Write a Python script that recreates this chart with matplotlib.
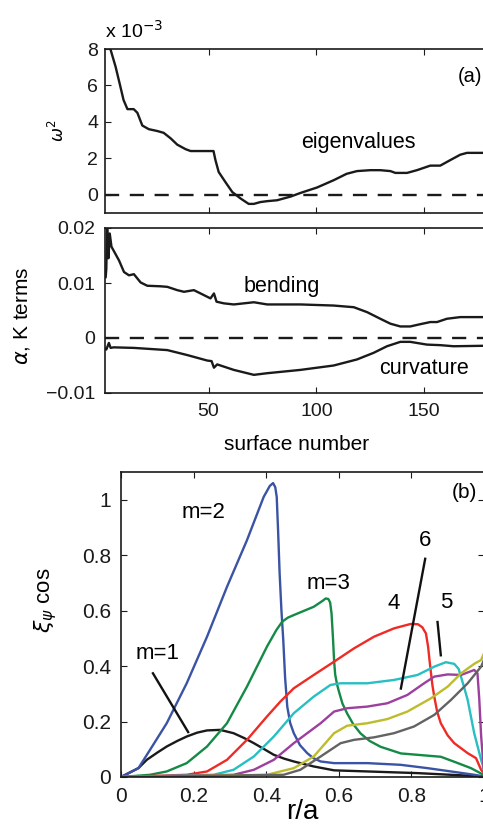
import numpy as np
import matplotlib
matplotlib.use("Agg")
import matplotlib.pyplot as plt

plt.rcParams['font.family'] = ['Liberation Sans', 'DejaVu Sans']
plt.rcParams['mathtext.fontset'] = 'dejavusans'

# ---- panel (a): eigenvalues (units of 1e-3) vs surface number
eig_s = [2.5, 4.5, 6.9, 8.8, 10.6, 12.4, 15.3, 17, 19.3, 22.3, 26.2, 29.2, 32.4, 35.5, 39.4,
         41.7, 52.3, 53.2, 54.7, 57.8, 61, 64.8, 68.6, 71, 74, 77.2, 81.8, 88, 92.6, 100.3,
         108, 114, 118.8, 125, 129.6, 134.3, 136.6, 142, 146.6, 152.8, 157.4, 162, 166.7,
         169.8, 180]
eig_w2 = [8.6, 8.0, 7.03, 6.1, 5.2, 4.7, 4.7, 4.5, 3.8, 3.6, 3.5, 3.4, 3.1, 2.75, 2.5,
          2.4, 2.4, 1.9, 1.25, 0.7, 0.15, -0.2, -0.5, -0.5, -0.4, -0.35, -0.3, -0.1, 0.1, 0.4,
          0.8, 1.15, 1.3, 1.35, 1.35, 1.3, 1.2, 1.2, 1.35, 1.6, 1.6, 1.9, 2.2,
          2.3, 2.3]

# ---- bending and curvature terms
bend_s = [2.3, 2.6, 3.0, 3.6, 4.2, 5, 8.5, 10.8, 13.1, 15.4, 18.5, 21.6, 27.8, 30.9, 35.5,
          38.6, 43.2, 46.3, 50.9, 52.5, 53.7, 57.1, 61.7, 71, 77.2, 92.6, 108, 117.3, 123.5,
          129.6, 134.3, 138.9, 143.5, 148, 152.8, 155.9, 160.5, 166.7, 180]
bend_v = [0.011, 0.0125, 0.020, 0.0145, 0.019, 0.0166, 0.0141, 0.012, 0.0114, 0.0116, 0.0101,
          0.0095, 0.0094, 0.0093, 0.0087, 0.0084, 0.0087, 0.0081, 0.0072, 0.0081, 0.0066,
          0.0063, 0.0061, 0.0065, 0.0061, 0.0061, 0.0059, 0.0056, 0.0047, 0.0035, 0.0026,
          0.0021, 0.0021, 0.0025, 0.0029, 0.0029, 0.0035, 0.0038, 0.0038]

curv_s = [2.3, 2.6, 3.8, 4.6, 6, 15.4, 30.9, 40.1, 49.4, 51.4, 52.5, 54, 61.7, 71, 77.2, 92.6,
          108, 118.8, 126.5, 132.7, 138.9, 143.5, 151.2, 157.4, 163.6, 180]
curv_v = [-0.0019, -0.0021, -0.0009, -0.0018, -0.0017, -0.0018, -0.0022, -0.0031, -0.0041,
          -0.0042, -0.0054, -0.0048, -0.0058, -0.0067, -0.0064, -0.0058, -0.005, -0.0039,
          -0.0027, -0.0015, -0.0007, -0.0007, -0.0012, -0.0013, -0.0015, -0.0014]

# ---- panel (b): xi_psi cos harmonics vs r/a
m1_r = [0, 0.048, 0.071, 0.1, 0.126, 0.155, 0.181, 0.21, 0.237, 0.273, 0.31, 0.34, 0.366,
        0.395, 0.421, 0.45, 0.476, 0.531, 0.587, 0.679, 0.817, 1.0]
m1_v = [0, 0.032, 0.062, 0.088, 0.11, 0.13, 0.146, 0.16, 0.168, 0.170, 0.158, 0.14, 0.122,
        0.1, 0.08, 0.066, 0.056, 0.038, 0.024, 0.02, 0.014, 0.002]

m2_r = [0, 0.048, 0.08, 0.126, 0.181, 0.237, 0.292, 0.347, 0.393, 0.41, 0.419, 0.425, 0.429,
        0.433, 0.437, 0.442, 0.447, 0.452, 0.458, 0.466, 0.476, 0.493, 0.513, 0.53, 0.55,
        0.587, 0.679, 0.77, 0.844, 0.909, 0.973, 1.0]
m2_v = [0, 0.032, 0.098, 0.194, 0.338, 0.506, 0.686, 0.854, 1.01, 1.05, 1.06, 1.045, 1.01,
        0.88, 0.734, 0.60, 0.494, 0.36, 0.254, 0.195, 0.158, 0.115, 0.086, 0.068, 0.056,
        0.05, 0.05, 0.044, 0.032, 0.02, 0.008, 0.002]

m3_r = [0, 0.08, 0.126, 0.181, 0.237, 0.292, 0.347, 0.402, 0.428, 0.444, 0.46, 0.476, 0.531,
        0.555, 0.564, 0.571, 0.576, 0.58, 0.584, 0.587, 0.59, 0.595, 0.6, 0.61, 0.623, 0.64,
        0.66, 0.685, 0.715, 0.771, 0.826, 0.881, 0.918, 0.964, 1.0]
m3_v = [0, 0.008, 0.02, 0.05, 0.11, 0.194, 0.326, 0.47, 0.53, 0.56, 0.575, 0.584, 0.614,
        0.635, 0.644, 0.642, 0.63, 0.59, 0.50, 0.42, 0.37, 0.335, 0.31, 0.265, 0.229, 0.19,
        0.157, 0.13, 0.109, 0.085, 0.079, 0.073, 0.055, 0.032, 0.007]

m4_r = [0, 0.181, 0.237, 0.292, 0.347, 0.402, 0.439, 0.476, 0.531, 0.587, 0.642, 0.697, 0.752,
        0.798, 0.818, 0.83, 0.84, 0.846, 0.85, 0.854, 0.858, 0.863, 0.871, 0.881, 0.9, 0.918,
        0.955, 0.978, 0.992, 1.0]
m4_v = [0, 0.008, 0.02, 0.062, 0.134, 0.218, 0.272, 0.32, 0.368, 0.416, 0.464, 0.506, 0.536,
        0.552, 0.551, 0.54, 0.518, 0.47, 0.42, 0.374, 0.33, 0.29, 0.235, 0.194, 0.15, 0.122,
        0.086, 0.068, 0.026, 0.014]

m5_r = [0, 0.255, 0.31, 0.366, 0.421, 0.476, 0.531, 0.577, 0.605, 0.679, 0.752, 0.817, 0.863,
        0.895, 0.918, 0.93, 0.937, 0.946, 0.955, 0.973, 0.992, 1.0]
m5_v = [0, 0.008, 0.026, 0.074, 0.146, 0.23, 0.29, 0.332, 0.338, 0.338, 0.35, 0.368, 0.398,
        0.414, 0.408, 0.39, 0.36, 0.32, 0.278, 0.158, 0.062, 0.026]

m6_r = [0, 0.31, 0.366, 0.421, 0.476, 0.55, 0.587, 0.623, 0.679, 0.734, 0.789, 0.835, 0.863,
        0.9, 0.937, 0.973, 0.982, 0.987, 0.992, 1.0]
m6_v = [0, 0.008, 0.026, 0.062, 0.122, 0.194, 0.236, 0.248, 0.254, 0.266, 0.296, 0.338, 0.362,
        0.37, 0.368, 0.386, 0.374, 0.28, 0.15, 0.014]

m7_r = [0, 0.402, 0.476, 0.531, 0.587, 0.623, 0.679, 0.734, 0.789, 0.854, 0.9, 0.937, 0.973,
        0.992, 1.0]
m7_v = [0, 0.008, 0.032, 0.074, 0.158, 0.185, 0.194, 0.209, 0.236, 0.284, 0.326, 0.374, 0.408,
        0.422, 0.446]

m8_r = [0, 0.448, 0.494, 0.55, 0.605, 0.642, 0.697, 0.752, 0.807, 0.863, 0.909, 0.955, 0.992, 1.0]
m8_v = [0, 0.008, 0.026, 0.074, 0.122, 0.134, 0.143, 0.158, 0.182, 0.224, 0.278, 0.338, 0.398,
        0.422]

colors = ['#1a1a1a', '#3a53a4', '#138a45', '#ee2b25', '#27bfc2', '#9d3f9c', '#bcbc2c', '#636363']

fig = plt.figure(figsize=(4.83, 8.25), dpi=100)
W, H = 483.0, 825.0

def box(l, t, r, b):
    return [l / W, 1 - b / H, (r - l) / W, (b - t) / H]

def style(ax, fs, pad):
    ax.tick_params(direction='in', top=True, right=True, length=4, width=0.8,
                   labelsize=fs, colors='#1a1a1a', pad=pad)
    for sp in ax.spines.values():
        sp.set_linewidth(1.2)
        sp.set_color('#1a1a1a')

lw = dict(lw=1.7, solid_joinstyle='round', solid_capstyle='round')

# --- top panel
ax1 = fig.add_axes(box(105, 49, 489, 213))
ax1.plot(eig_s, eig_w2, color='#1a1a1a', **lw)
ax1.axhline(0, color='#1a1a1a', lw=1.7, dashes=(6, 4.5))
ax1.set_xlim(2, 180)
ax1.set_ylim(-1, 8)
ax1.set_yticks([0, 2, 4, 6, 8])
ax1.set_xticks([50, 100, 150])
ax1.set_xticklabels([])
style(ax1, 14, 5)
ax1.set_ylabel(r'$\omega^2$', fontsize=12)
ax1.yaxis.set_label_coords(-0.098, 0.5)
ax1.text(0.0, 1.045, r'x 10$^{-3}$', transform=ax1.transAxes, fontsize=14, va='bottom')
ax1.text(119.4, 2.85, 'eigenvalues', fontsize=15.5, ha='center', va='center')
ax1.text(171.3, 6.5, '(a)', fontsize=14.5, ha='center', va='center')

# --- middle panel
ax2 = fig.add_axes(box(105, 228, 489, 393))
ax2.plot(bend_s, bend_v, color='#1a1a1a', **lw)
ax2.plot(curv_s, curv_v, color='#1a1a1a', **lw)
ax2.axhline(0, color='#1a1a1a', lw=1.7, dashes=(6, 4.5))
ax2.set_xlim(2, 180)
ax2.set_ylim(-0.01, 0.02)
ax2.set_yticks([-0.01, 0, 0.01, 0.02])
ax2.set_yticklabels(['\u22120.01', '0', '0.01', '0.02'])
ax2.set_xticks([50, 100, 150])
style(ax2, 14, 7)
ax2.set_ylabel(r'$\alpha$, K terms', fontsize=15)
ax2.yaxis.set_label_coords(-0.19, 0.47)
ax2.set_xlabel('surface number', fontsize=15, labelpad=11)
ax2.text(84.1, 0.0094, 'bending', fontsize=15.5, ha='center', va='center')
ax2.text(149.7, -0.0056, 'curvature', fontsize=15.5, ha='center', va='center')

# --- bottom panel
ax3 = fig.add_axes(box(121, 472, 484, 777))
series = [(m1_r, m1_v), (m2_r, m2_v), (m3_r, m3_v), (m4_r, m4_v),
          (m5_r, m5_v), (m6_r, m6_v), (m7_r, m7_v), (m8_r, m8_v)]
for (r, v), c in zip(series, colors):
    ax3.plot(r, v, color=c, **lw)
ax3.set_xlim(0, 1)
ax3.set_ylim(0, 1.1)
ax3.set_xticks([0, 0.2, 0.4, 0.6, 0.8, 1])
ax3.set_xticklabels(['0', '0.2', '0.4', '0.6', '0.8', '1'])
ax3.set_yticks([0, 0.2, 0.4, 0.6, 0.8, 1])
ax3.set_yticklabels(['0', '0.2', '0.4', '0.6', '0.8', '1'])
style(ax3, 15, 7)
ax3.set_ylabel(r'$\xi_\psi$ cos', fontsize=16)
ax3.yaxis.set_label_coords(-0.172, 0.58)
ax3.set_xlabel('r/a', fontsize=20, labelpad=-5)
mtext = dict(fontsize=16, ha='center', va='center')
ax3.text(0.227, 0.953, 'm=2', **mtext)
ax3.text(0.573, 0.698, 'm=3', **mtext)
ax3.text(0.10, 0.445, 'm=1', **mtext)
ax3.text(0.752, 0.626, '4', **mtext)
ax3.text(0.838, 0.853, '6', **mtext)
ax3.text(0.895, 0.631, '5', **mtext)
ax3.text(0.945, 1.025, '(b)', fontsize=15, ha='center', va='center')
ax3.plot([0.088, 0.185], [0.374, 0.162], color='#111111', lw=1.7)
ax3.plot([0.838, 0.771], [0.787, 0.319], color='#111111', lw=1.7)
ax3.plot([0.872, 0.881], [0.559, 0.439], color='#111111', lw=1.7)

fig.savefig('out.png', dpi=100)
